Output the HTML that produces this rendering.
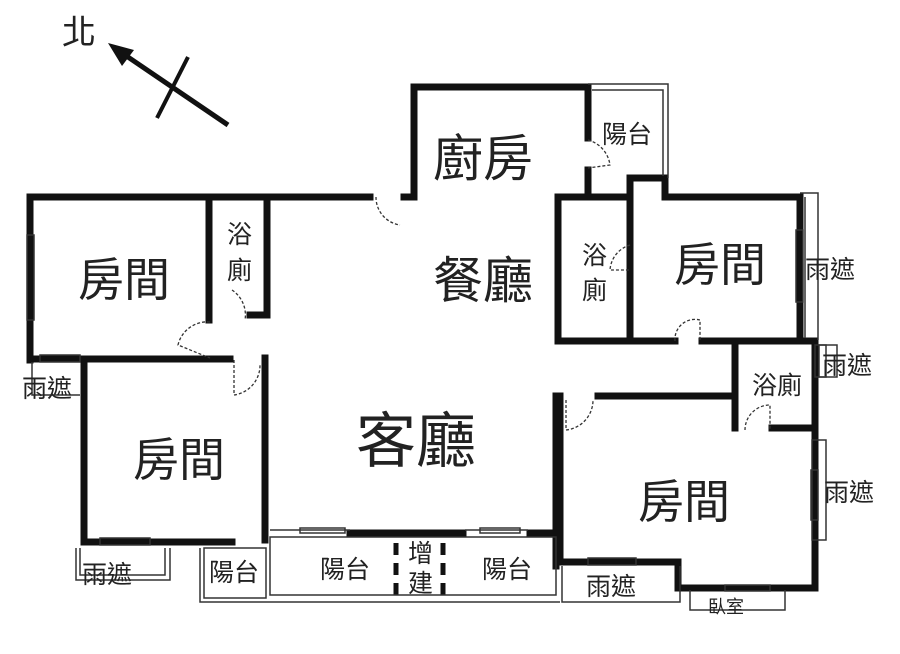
<!DOCTYPE html>
<html><head><meta charset="utf-8"><style>
html,body{margin:0;padding:0;background:#fff;}
svg{display:block;}
text{font-family:"Liberation Sans","Noto Sans CJK TC",sans-serif;fill:#222;}
</style></head><body>
<svg width="900" height="654" viewBox="0 0 900 654" xmlns="http://www.w3.org/2000/svg">
<rect width="900" height="654" fill="#fff"/>
<text x="62" y="44" font-size="34">北</text>
<line x1="228" y1="125" x2="125" y2="55" stroke="#111" stroke-width="5"/>
<polygon points="108,43 134,50 122,66" fill="#111"/>
<line x1="188" y1="57" x2="157" y2="118" stroke="#111" stroke-width="4"/>

<g stroke="#111" stroke-width="7" fill="none" stroke-linecap="square">
<line x1="30" y1="197" x2="370" y2="197"/>
<line x1="30" y1="197" x2="30" y2="360"/>
<line x1="209" y1="197" x2="209" y2="320"/>
<line x1="267" y1="197" x2="267" y2="315"/>
<line x1="250" y1="315" x2="267" y2="315"/>
<line x1="30" y1="359" x2="230" y2="359"/>
<line x1="84" y1="360" x2="84" y2="542"/>
<line x1="265" y1="358" x2="265" y2="540"/>
<line x1="84" y1="542" x2="232" y2="542"/>
<line x1="404" y1="197" x2="414" y2="197"/>
<line x1="414" y1="87" x2="414" y2="197"/>
<line x1="414" y1="87" x2="588" y2="87"/>
<line x1="588" y1="87" x2="588" y2="138"/>
<line x1="588" y1="170" x2="588" y2="197"/>
<line x1="558" y1="197" x2="630" y2="197"/>
<line x1="558" y1="197" x2="558" y2="340"/>
<line x1="630" y1="178" x2="665" y2="178"/>
<line x1="630" y1="178" x2="630" y2="340"/>
<line x1="665" y1="178" x2="665" y2="197"/>
<line x1="665" y1="197" x2="800" y2="197"/>
<line x1="800" y1="197" x2="800" y2="340"/>
<line x1="558" y1="341" x2="675" y2="341"/>
<line x1="702" y1="341" x2="815" y2="341"/>
<line x1="815" y1="341" x2="815" y2="588"/>
<line x1="735" y1="341" x2="735" y2="428"/>
<line x1="598" y1="396" x2="735" y2="396"/>
<line x1="772" y1="428" x2="815" y2="428"/>
<line x1="560" y1="396" x2="560" y2="562"/>
<line x1="560" y1="562" x2="678" y2="562"/>
<line x1="678" y1="562" x2="678" y2="588"/>
<line x1="678" y1="588" x2="815" y2="588"/>
<line x1="350" y1="533" x2="463" y2="533"/>
<line x1="530" y1="533" x2="556" y2="533"/>
<line x1="556" y1="396" x2="556" y2="566"/>
</g>
<g stroke="#111" stroke-width="5" stroke-dasharray="12,8">
<line x1="396" y1="543" x2="396" y2="596"/>
<line x1="443" y1="543" x2="443" y2="596"/>
</g>
<g stroke="#333" stroke-width="1.5" fill="none">
<line x1="270" y1="530" x2="350" y2="530"/>
<rect x="300" y="528" width="45" height="5"/>
<line x1="465" y1="530" x2="528" y2="530"/>
<rect x="480" y="528" width="40" height="5"/>
<rect x="270" y="537" width="286" height="58"/>
<polyline points="200,548 200,602 560,602"/>
<rect x="204" y="548" width="62" height="50"/>
<polyline points="80,548 80,575 165,575 165,548"/>
<polyline points="76,548 76,580 170,580 170,548"/>
<rect x="100" y="538" width="50" height="7"/>
<rect x="40" y="355" width="40" height="7"/>
<polyline points="32,362 32,395 80,395"/>
<rect x="27" y="235" width="7" height="85"/>
<polyline points="562,566 562,602 680,602 680,566"/>
<rect x="588" y="558" width="48" height="7"/>
<polyline points="690,590 690,610 785,610 785,590"/>
<rect x="725" y="585" width="45" height="6"/>
<rect x="812" y="440" width="14" height="100"/>
<rect x="811" y="470" width="7" height="50"/>
<rect x="815" y="345" width="22" height="32"/>
<rect x="819" y="345" width="7" height="32"/>
<polyline points="800,193 818,193 818,340"/>
<line x1="805" y1="197" x2="805" y2="338"/>
<rect x="796" y="230" width="7" height="72"/>
<polyline points="588,84 668,84 668,178"/>
<polyline points="592,90 663,90 663,176"/>
</g>
<g stroke="#333" stroke-width="1.3" fill="none" stroke-dasharray="3,2">
<path d="M376,197 A28,28 0 0 0 400,225"/>
<path d="M588,140 A30,30 0 0 1 610,165 L588,168"/>
<path d="M630,245 A28,28 0 0 0 610,270 L630,270"/>
<path d="M675,341 A20,20 0 0 1 700,320 L700,341"/>
<path d="M232,290 A30,30 0 0 1 245,320"/>
<path d="M210,322 A30,30 0 0 0 178,345 L210,358"/>
<path d="M234,360 L234,395 A30,30 0 0 0 260,365"/>
<path d="M566,400 L566,430 A30,30 0 0 0 593,400"/>
<path d="M745,430 A25,25 0 0 1 770,405 L770,430"/>
</g>
<g font-size="50">
<text x="433" y="176">廚房</text>
<text x="433" y="298">餐廳</text>
</g>
<g font-size="46">
<text x="78" y="296">房間</text>
<text x="133" y="476">房間</text>
<text x="674" y="281">房間</text>
<text x="638" y="518">房間</text>
</g>
<text x="356" y="462" font-size="60">客廳</text>
<g font-size="25">
<text x="227" y="243">浴</text>
<text x="227" y="279">廁</text>
<text x="582" y="264">浴</text>
<text x="582" y="299">廁</text>
<text x="602" y="143">陽台</text>
<text x="752" y="394">浴廁</text>
<text x="320" y="578">陽台</text>
<text x="482" y="578">陽台</text>
<text x="209" y="581">陽台</text>
<text x="408" y="562">增</text>
<text x="408" y="592">建</text>
<text x="586" y="595">雨遮</text>
<text x="82" y="583">雨遮</text>
<text x="22" y="397">雨遮</text>
<text x="805" y="278">雨遮</text>
<text x="822" y="374">雨遮</text>
<text x="824" y="501">雨遮</text>
<text x="708" y="613" font-size="18">臥室</text>
</g>
</svg>
</body></html>
